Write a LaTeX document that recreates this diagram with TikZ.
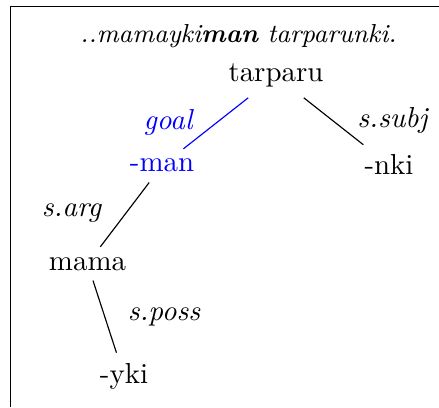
\documentclass[tikz,border=0pt]{standalone}
\begin{document}
\begin{tikzpicture}[x=0.346pt,y=-0.346pt,
  word/.style={anchor=base},
  rel/.style={anchor=base,font=\itshape},
  link/.style={draw=black,line width=0.4pt}]
\useasboundingbox (0,0) rectangle (439,407);
\draw[line width=0.45pt] (10.8,407) -- (10.8,6.3) -- (439,6.3);
\node[word,font=\small] (title) at (238.5,43) {\textit{..mamayki\textbf{man} tarparunki.}};
\node[word] (tarparu) at (276,82) {tarparu};
\node[word,text=blue] (man) at (162,172) {-man};
\node[word] (nki) at (389,175) {-nki};
\node[word] (mama) at (87.5,270) {mama};
\node[word] (yki) at (124,383) {-yki};
\node[rel,text=blue] (lgoal) at (168,130) {goal};
\node[rel] (lsubj) at (392.5,128) {s.subj};
\node[rel] (larg) at (71.5,217) {s.arg};
\node[rel] (lposs) at (164,320) {s.poss};
\draw[link,draw=blue] (tarparu) -- (man);
\draw[link] (tarparu) -- (nki);
\draw[link] (man) -- (mama);
\draw[link] (mama) -- (yki);
\end{tikzpicture}
\end{document}
